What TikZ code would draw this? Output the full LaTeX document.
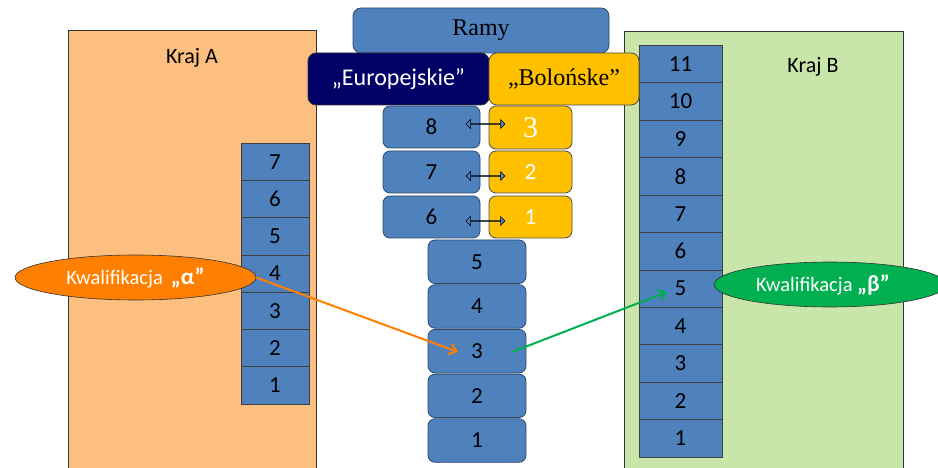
\documentclass[tikz,border=0pt]{standalone}
\usepackage{fontspec}
\setmainfont{Carlito}
\newfontfamily\tnr{Liberation Serif}
\usetikzlibrary{shapes.geometric,shapes.arrows,arrows.meta}
\definecolor{boxblue}{HTML}{4F81BD}
\definecolor{edgeblue}{HTML}{2C4A6E}
\definecolor{navy}{HTML}{000066}
\definecolor{gold}{HTML}{FFC000}
\definecolor{peach}{HTML}{FCBF80}
\definecolor{lgreen}{HTML}{C9E6AA}
\definecolor{orng}{HTML}{FF8000}
\definecolor{grn}{HTML}{00B050}
\tikzset{
  base/.style={anchor=north west, inner sep=0pt, outer sep=0pt, line width=0.8pt},
  region/.style={base, draw=black!80},
  cell/.style={base, fill=boxblue, draw=black!75, font=\fontsize{23}{23}\selectfont},
  rbox/.style={base, fill=boxblue, draw=edgeblue, rounded corners=7pt, font=\fontsize{23}{23}\selectfont},
  ybox/.style={base, fill=gold, draw=black!70, rounded corners=7pt, text=white, font=\fontsize{23}{23}\selectfont},
  dbl/.style={double arrow, fill=boxblue, draw=black, line width=0.5pt, minimum height=39pt, minimum width=9pt, double arrow head extend=2.5pt, inner sep=0pt},
  qual/.style={ellipse, inner sep=0pt, draw=black!80, line width=0.6pt, text=white, font=\fontsize{20.5}{20.5}\selectfont},
  conn/.style={line width=2pt, -{Straight Barb[length=7pt,width=11pt,line width=2pt]}}
}
\begin{document}
\begin{tikzpicture}[x=1pt,y=-1pt]
\useasboundingbox (0,0) rectangle (938,468);
% country regions
\node[region, fill=peach, minimum width=248pt, minimum height=460pt] (krajA) at (68,30) {};
\node[font=\fontsize{22}{22}\selectfont] (krajAt) at (192,58) {Kraj A};
\node[region, fill=lgreen, minimum width=279pt, minimum height=460pt] (krajB) at (624,31) {};
\node[font=\fontsize{22}{22}\selectfont] (krajBt) at (813,67) {Kraj B};
% left column
\foreach \n [count=\i from 0] in {7,6,5,4,3,2,1}{
  \node[cell, minimum width=68pt, minimum height=37.3pt] (a\n) at (241,{143+37.3*\i}) {\n};
}
% right column
\foreach \n [count=\i from 0] in {11,10,9,8,7,6,5,4,3,2,1}{
  \node[cell, minimum width=83pt, minimum height=37.4pt] (b\n) at (639,{45.5+37.4*\i}) {\n};
}
% top frames
\node[rbox, minimum width=256pt, minimum height=45pt, font=\tnr\fontsize{24}{24}\selectfont, rounded corners=8pt] (ramy) at (353,8) {Ramy};
\node[base, fill=navy, draw=black!80, rounded corners=8pt, minimum width=181pt, minimum height=52pt, text=white, font=\fontsize{24}{24}\selectfont] (eur) at (308,53) {„Europejskie”};
\node[base, fill=gold, draw=black!70, rounded corners=8pt, minimum width=150pt, minimum height=52pt, font=\tnr\fontsize{24}{24}\selectfont] (bol) at (489,53) {„Bolońske”};
% European levels 8,7,6 and Bologna cycles
\node[rbox, minimum width=97pt, minimum height=42pt] (e8) at (383,106) {8};
\node[rbox, minimum width=97pt, minimum height=42pt] (e7) at (383,151) {7};
\node[rbox, minimum width=97pt, minimum height=42pt] (e6) at (383,196) {6};
\node[ybox, minimum width=83pt, minimum height=43pt, font=\tnr\fontsize{30}{30}\selectfont] (y3) at (489,106) {\raisebox{-4pt}{3}};
\node[ybox, minimum width=83pt, minimum height=42pt] (y2) at (489,151) {2};
\node[ybox, minimum width=83pt, minimum height=42pt] (y1) at (489,196) {1};
\node[dbl] (d8) at (485.5,124) {};
\node[dbl] (d7) at (485.5,176) {};
\node[dbl] (d6) at (485.5,221) {};
% central column
\foreach \n [count=\i from 0] in {5,4,3,2,1}{
  \node[rbox, minimum width=98pt, minimum height=43.5pt] (c\n) at (428,{240+44.7*\i}) {\n};
}
% qualifications
\node[qual, fill=orng, minimum width=241pt, minimum height=45pt] (qa) at (135.5,277.5) {\raisebox{-4pt}{Kwalifikacja \,{\fontsize{23}{23}\selectfont\bfseries „α”}}};
\node[qual, fill=grn, minimum width=232pt, minimum height=45pt] (qb) at (830,284.5) {\hspace*{-14pt}Kwalifikacja {\fontsize{23}{23}\selectfont\bfseries „β”}};
\coordinate (c3l) at (458,352);
\coordinate (c3r) at (512,352);
\coordinate (b5l) at (667,292);
\draw[conn, orng] (qa.east) -- (c3l);
\draw[conn, grn] (c3r) -- (b5l);
\end{tikzpicture}
\end{document}
